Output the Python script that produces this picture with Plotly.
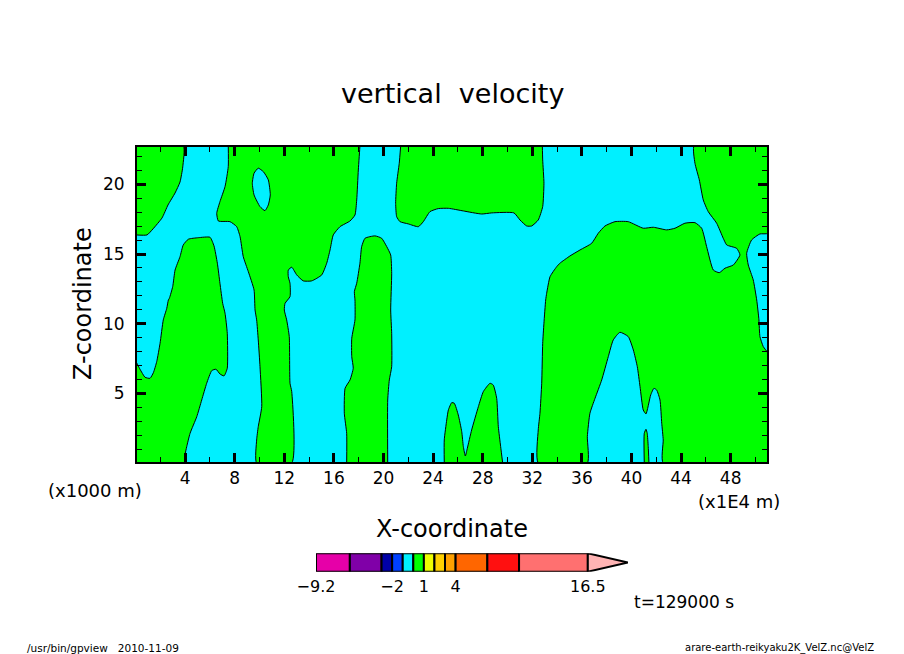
import plotly.graph_objects as go

W = 904
H = 654

CYAN = "#00f0ff"
GREEN = "#00ff00"

# contours of w = 0 (x in 1E4 m, z in 1000 m)
x_range = [0.12, 50.93]
z_range = [0.07, 22.68]
x_max = 51
z_max = 22.8

top_left_x = [0, 3.85, 3.81, 3.59, 3.19, 2.62, 2.14, 1.41, 0.93, 0]
top_left_z = [22.8, 22.8, 21.25, 20.17, 19.38, 18.52, 17.59, 16.8, 16.37, 16.37]

left_x = [0, 0, 0.36, 0.77, 1.17, 1.44, 1.71, 1.98, 2.24, 2.52, 2.65, 2.73, 3.0, 3.19, 3.59, 3.85,
          4.26, 5.06, 6.01, 6.33, 6.6, 6.81, 7.03, 7.22, 7.4, 7.4, 7.14, 6.81, 6.49, 6.15, 5.74,
          5.34, 4.94, 4.4, 4.13, 3.99, 3.99]
left_z = [0, 7.3, 6.73, 6.15, 6.08, 6.48, 7.27, 8.59, 10.27, 11.1, 11.7, 11.82, 12.66, 13.85, 14.81, 15.65,
          16.06, 16.17, 16.2, 15.58, 14.34, 12.9, 11.46, 10.75, 9.31, 6.8, 6.25, 6.39, 6.73, 6.63, 5.72,
          4.52, 3.32, 2.13, 1.17, 0.57, 0]

mid_x = [7.48, 7.48, 7.22, 6.81, 6.55, 6.68, 7.62, 8.16, 8.43, 8.69, 9.1, 9.56, 9.64, 9.77, 9.9, 10.04,
         10.18, 9.9, 9.77, 9.77, 12.6, 12.6, 12.46, 12.4, 12.19, 12.0, 12.06, 12.46, 12.46, 12.32, 12.32,
         12.6, 13.0, 13.53, 14.21, 15.02, 15.42, 15.69, 15.95, 16.49, 17.3, 17.7, 17.84, 17.97, 18.1, 18.1]
mid_z = [22.8, 21.27, 19.84, 18.76, 17.92, 17.37, 17.32, 16.96, 16.25, 14.81, 13.73, 12.42, 10.98, 10.27, 8.83, 6.91,
         4.04, 2.61, 1.65, 0, 0, 5.12, 5.72, 9.07, 10.27, 10.98, 11.46, 11.94, 12.9, 13.37, 13.85,
         14.05, 13.5, 13.07, 13.07, 13.5, 14.34, 15.29, 16.37, 16.96, 17.37, 17.8, 18.88, 21.03, 22.76, 22.8]

hole_x = [9.9, 9.56, 9.42, 9.56, 10.04, 10.44, 10.71, 10.87, 10.71, 10.31, 9.9]
hole_z = [21.16, 20.8, 20.08, 19.24, 18.4, 18.11, 18.52, 19.24, 20.32, 20.91, 21.16]

strip_x = [17.03, 17.03, 16.84, 16.9, 17.3, 17.56, 17.44, 17.44, 17.7, 17.7, 17.65, 17.84, 18.1, 18.24, 18.51,
           19.31, 19.85, 20.26, 20.58, 20.66, 20.58, 20.66, 20.66, 20.47, 20.34, 20.34]
strip_z = [0, 2.13, 3.57, 5.36, 5.96, 6.8, 7.63, 8.95, 10.27, 11.7, 12.3, 12.9, 14.34, 15.53, 16.13,
           16.3, 16.13, 15.53, 14.93, 13.62, 10.98, 9.31, 6.91, 5.96, 4.52, 0]

upper_x = [21.39, 21.27, 21.06, 20.98, 21.06, 21.33, 22.0, 22.81, 23.21, 23.75, 24.42, 25.23, 26.44, 27.92,
           28.73, 30.52, 31.01, 31.55, 31.95, 32.48, 32.84, 32.94, 32.84, 32.81]
upper_z = [22.8, 21.51, 20.08, 18.64, 17.68, 17.32, 17.16, 16.96, 17.32, 18.04, 18.26, 18.28, 18.09, 17.87,
           17.95, 17.95, 17.44, 17.01, 17.01, 17.44, 18.4, 20.08, 21.75, 22.8]

peaks_x = [24.9, 24.9, 25.1, 25.23, 25.5, 25.71, 26.03, 26.31, 26.44, 26.6, 26.76, 27.11, 27.65, 28.05,
           28.59, 28.85, 29.13, 29.26, 29.45, 29.61]
peaks_z = [0, 1.65, 3.09, 3.8, 4.33, 4.29, 3.45, 2.25, 1.17, 0.5, 1.05, 2.37, 4.04, 5.12,
           5.72, 5.6, 4.64, 2.61, 1.17, 0]

right_x = [32.48, 32.48, 32.62, 32.76, 32.84, 32.94, 33.08, 33.16, 33.43, 33.97, 34.23, 35.04, 35.85, 36.79,
           37.32, 37.86, 38.67, 39.74, 40.95, 41.76, 42.84, 43.51, 44.31, 45.12, 45.66, 46.06, 46.6, 47.08,
           47.54, 48.21, 48.75, 48.48, 47.68, 47.4, 46.87, 46.19, 45.79, 45.47, 45.12, 45.06, 51, 51,
           50.36, 49.69, 49.29, 49.42, 49.82, 50.1, 50.28, 50.36, 50.63, 51, 51, 42.56, 42.56, 42.44, 42.3,
           42.03, 41.81, 41.55, 41.17, 40.95, 40.69, 40.47, 40.15, 39.74, 39.07, 38.53, 38.13, 37.6, 37.06,
           36.65, 36.44, 36.44, 32.48]
right_z = [0, 2.37, 3.57, 5.72, 8.59, 10.03, 11.7, 12.18, 13.37, 14.09, 14.34, 14.86, 15.29, 15.77,
           16.49, 17.01, 17.32, 17.32, 16.85, 16.92, 16.73, 16.85, 17.21, 17.25, 16.85, 15.53, 13.85, 13.66,
           13.98, 14.21, 14.93, 15.41, 15.65, 16.13, 17.21, 18.04, 18.88, 20.32, 21.51, 22.8, 22.8, 16.49,
           16.44, 16.01, 15.05, 14.21, 13.14, 11.7, 10.27, 9.07, 8.35, 7.87, 0, 0, 1.65, 2.85, 4.52,
           5.24, 5.36, 4.88, 3.52, 3.8, 5.48, 6.91, 8.11, 9.07, 9.38, 8.83, 7.63, 5.96, 4.64,
           3.57, 1.89, 0, 0]

sliver_x = [41.03, 41.03, 41.17, 41.27, 41.35, 41.41]
sliver_z = [0, 2.13, 2.42, 2.13, 1.17, 0]

x_ticks = [4, 8, 12, 16, 20, 24, 28, 32, 36, 40, 44, 48]
z_ticks = [5, 10, 15, 20]

# colour legend
levels = [-9.2, -6, -3, -2, -1, 0, 1, 2, 3, 4, 7, 10, 16.5]
level_colors = ["#e600a8", "#8000a8", "#0000a8", "#0040ff", CYAN, GREEN, "#eeff00",
                "#ffd000", "#ffa000", "#ff6600", "#ff1010", "#ff7070"]
over_color = "#ffb4b4"
over_tip = 20.3
level_ticks = [-9.2, -2, 1, 4, 16.5]


def px(x):
    return x / W


def py(y):
    return 1 - y / H


fig = go.Figure()

# background of the panel is the -1..0 level
fig.add_trace(
    go.Scatter(
        x=[0, x_max, x_max, 0, 0],
        y=[0, 0, z_max, z_max, 0],
        mode="lines",
        fill="toself",
        fillcolor=CYAN,
        line=dict(width=0),
        hoverinfo="skip",
    )
)

regions = [
    (top_left_x, top_left_z, GREEN),
    (left_x, left_z, GREEN),
    (mid_x, mid_z, GREEN),
    (hole_x, hole_z, CYAN),
    (strip_x, strip_z, GREEN),
    (upper_x, upper_z, GREEN),
    (peaks_x, peaks_z, GREEN),
    (right_x, right_z, GREEN),
    (sliver_x, sliver_z, GREEN),
]

for xs, zs, color in regions:
    fig.add_trace(
        go.Scatter(
            x=xs,
            y=zs,
            mode="lines",
            fill="toself",
            fillcolor=color,
            line=dict(color="black", width=1, shape="spline", smoothing=0.5),
            hoverinfo="skip",
        )
    )

for i, color in enumerate(level_colors):
    fig.add_trace(
        go.Bar(
            x=[levels[i + 1] - levels[i]],
            y=[0.5],
            base=levels[i],
            width=1,
            orientation="h",
            marker=dict(color=color, line=dict(color="black", width=2)),
            xaxis="x2",
            yaxis="y2",
            hoverinfo="skip",
        )
    )

fig.add_trace(
    go.Scatter(
        x=[levels[-1], over_tip, levels[-1], levels[-1]],
        y=[1, 0.5, 0, 1],
        mode="lines",
        fill="toself",
        fillcolor=over_color,
        line=dict(color="black", width=2),
        xaxis="x2",
        yaxis="y2",
        cliponaxis=False,
        hoverinfo="skip",
    )
)

font = "DejaVu Sans"


def label(text, x, y, size, angle=0, anchor="center"):
    fig.add_annotation(
        text=text,
        x=px(x),
        y=py(y),
        xref="paper",
        yref="paper",
        showarrow=False,
        textangle=angle,
        xanchor=anchor,
        yanchor="middle",
        font=dict(family=font, size=size, color="black"),
    )


label("vertical  velocity", 452, 93, 27)
label("X-coordinate", 452, 529, 24)
label("Z-coordinate", 83, 304, 24, angle=-90)
label("(x1000 m)", 95, 490, 18)
label("(x1E4 m)", 739, 501, 18)
label("t=129000 s", 684, 602, 17)
label("/usr/bin/gpview   2010-11-09", 25, 648, 10.5, anchor="left")
label("arare-earth-reikyaku2K_VelZ.nc@VelZ", 683, 648, 10, anchor="left")

fig.update_layout(
    template="none",
    width=W,
    height=H,
    margin=dict(l=0, r=0, t=0, b=0),
    paper_bgcolor="white",
    plot_bgcolor="white",
    showlegend=False,
    barmode="overlay",
    font=dict(family=font, color="black"),
    xaxis=dict(
        domain=[px(137), px(767)],
        range=x_range,
        automargin=False,
        tickvals=x_ticks,
        ticktext=[str(v) for v in x_ticks],
        ticks="inside",
        ticklen=9,
        tickwidth=3,
        tickcolor="black",
        tickfont=dict(size=17),
        minor=dict(dtick=2, tick0=0, ticks="inside", ticklen=5, tickwidth=1, tickcolor="black"),
        showline=True,
        linecolor="black",
        linewidth=2,
        mirror="allticks",
        showgrid=False,
        zeroline=False,
        layer="above traces",
    ),
    yaxis=dict(
        domain=[py(462), py(147)],
        range=z_range,
        automargin=False,
        tickvals=z_ticks,
        ticktext=[str(v) for v in z_ticks],
        ticks="inside",
        ticklen=9,
        tickwidth=3,
        tickcolor="black",
        tickfont=dict(size=17),
        ticklabelstandoff=7,
        minor=dict(dtick=1, tick0=0, ticks="inside", ticklen=5, tickwidth=1, tickcolor="black"),
        showline=True,
        linecolor="black",
        linewidth=2,
        mirror="allticks",
        showgrid=False,
        zeroline=False,
        layer="above traces",
    ),
    xaxis2=dict(
        domain=[px(316), px(628)],
        range=[levels[0], over_tip],
        anchor="y2",
        automargin=False,
        tickvals=level_ticks,
        ticktext=["\u22129.2", "\u22122", "1", "4", "16.5"],
        ticks="",
        tickfont=dict(size=16),
        ticklabelstandoff=3,
        showline=False,
        showgrid=False,
        zeroline=False,
    ),
    yaxis2=dict(
        domain=[py(571.7), py(553.3)],
        range=[0, 1],
        anchor="x2",
        automargin=False,
        showticklabels=False,
        ticks="",
        showline=False,
        showgrid=False,
        zeroline=False,
    ),
)

fig.write_html(
    "out.html",
    config=dict(displayModeBar=False),
    post_script="document.body.style.margin='0';",
)
